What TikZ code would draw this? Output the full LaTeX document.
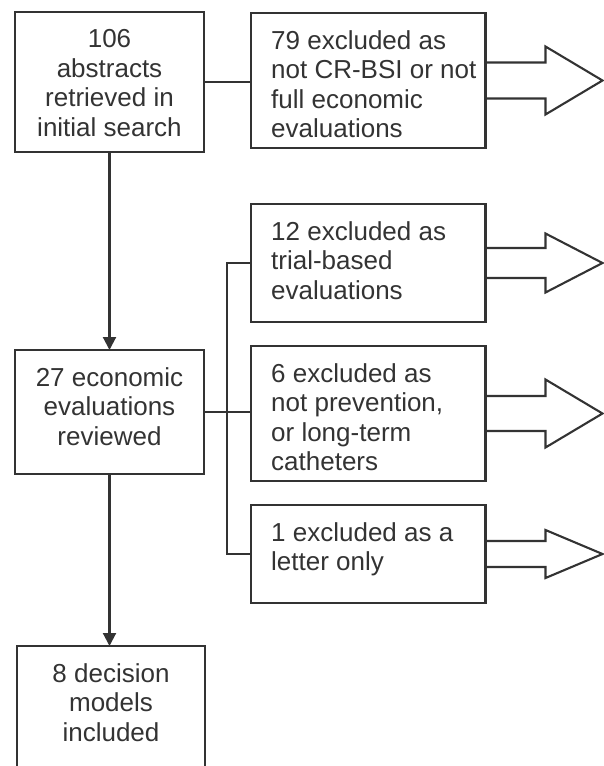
\documentclass[tikz,border=0pt]{standalone}
\usepackage{fontspec}
\setmainfont{Liberation Sans}
\usetikzlibrary{arrows.meta,calc}
\definecolor{ink}{HTML}{333333}
\tikzset{
  box/.style={draw=ink, line width=2.1pt, anchor=north west, inner sep=0pt, outer sep=0pt},
  ln/.style={draw=ink, line width=2.1pt},
  flow/.style={ln, -{Triangle[width=13pt,length=13pt]}},
  txt/.style={inner sep=0pt, text=ink, font=\fontsize{26}{29.5}\selectfont},
  ltxt/.style={txt, align=center, anchor=north},
  rtxt/.style={txt, align=left, anchor=north west},
}
\newcommand\exitarrow[3]{%
  \draw[ln] ($(#1.east)+(0,-#2)$) -- ++(60,0) -- ++(0,#2-#3) -- ($(#1.east)+(117,0)$)
    -- ++(-57,#3) -- ++(0,#2-#3) -- ++(-60,0);}
\begin{document}
\begin{tikzpicture}[x=1pt,y=-1pt]
\useasboundingbox (0,0) rectangle (603,766);
% left column
\node[box, minimum width=189pt, minimum height=140pt] (a) at (15,12) {};
\node[box, minimum width=189pt, minimum height=124pt] (f) at (15,350) {};
\node[box, minimum width=188pt, minimum height=140pt] (g) at (17,646) {};
% right column
\node[box, minimum width=234.5pt, minimum height=135pt] (b) at (251,13) {};
\node[box, minimum width=234.5pt, minimum height=118pt] (c) at (251,204) {};
\node[box, minimum width=234.5pt, minimum height=135pt] (d) at (251,346) {};
\node[box, minimum width=234.5pt, minimum height=98pt] (e) at (251,505) {};
% texts
\node[ltxt] (ta) at ($(a.north)+(0,17.2)$) {106\\abstracts\\retrieved in\\initial search};
\node[ltxt] (tf) at ($(f.north)+(0,17.2)$) {27 economic\\evaluations\\reviewed};
\node[ltxt] (tg) at ($(g.north)+(0,17.2)$) {8 decision\\models\\included};
\node[rtxt] (tb) at ($(b.north west)+(20,17.2)$) {79 excluded as\\not CR-BSI or not\\full economic\\evaluations};
\node[rtxt] (tc) at ($(c.north west)+(20,17.2)$) {12 excluded as\\trial-based\\evaluations};
\node[rtxt] (td) at ($(d.north west)+(20,17.2)$) {6 excluded as\\not prevention,\\or long-term\\catheters};
\node[rtxt] (te) at ($(e.north west)+(20,17.2)$) {1 excluded as a\\letter only};
% connectors
\coordinate (brk) at (227,0);
\draw[flow] (a.south) -- (a.south |- f.north);
\draw[flow] (f.south) -- (f.south |- g.north);
\draw[ln] (a.east) -- (a.east -| b.west);
\draw[ln] (f.east) -- (f.east -| d.west);
\draw[ln] (c.west) -- (c.west -| brk) -- (e.west -| brk) -- (e.west);
% exit arrows
\exitarrow{b}{18}{34}
\exitarrow{c}{15}{29.5}
\exitarrow{d}{17.5}{34}
\exitarrow{e}{13}{24}
\end{tikzpicture}
\end{document}
